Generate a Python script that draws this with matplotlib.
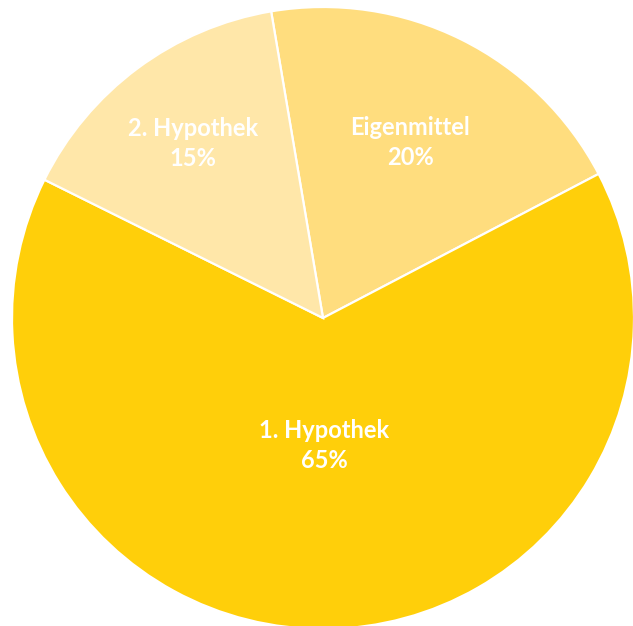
import numpy as np
import matplotlib.pyplot as plt

# slice data, drawn clockwise starting at the top-left boundary
labels = ["Eigenmittel", "1. Hypothek", "2. Hypothek"]
shares = [20, 65, 15]
colors = ["#FFDD7E", "#FFCF0A", "#FFE7A9"]
label_radius = [0.63, 0.41, 0.70]

fig = plt.figure(figsize=(6.33, 6.26), dpi=100)
ax = fig.add_axes([0, 0, 1, 1])

wedges, _ = ax.pie(shares, colors=colors, startangle=99.6, counterclock=False,
                   radius=1.0, center=(0, 0),
                   wedgeprops=dict(edgecolor="white", linewidth=1.6))

for w, lab, val, r in zip(wedges, labels, shares, label_radius):
    mid = np.deg2rad((w.theta1 + w.theta2) / 2)
    ax.text(r * np.cos(mid), r * np.sin(mid), f"{lab}\n{val}%",
            ha="center", va="center", color="white", fontsize=17,
            fontweight="bold", family=["Lato", "DejaVu Sans"], linespacing=1.35)

# pie radius = 311 px, center at (323, 318) px from top-left
R = 311.0
ax.set_aspect("auto")
ax.set_xlim(-323 / R, (633 - 323) / R)
ax.set_ylim(-(626 - 318) / R, 318 / R)
ax.axis("off")

fig.savefig("out.png", dpi=100)
